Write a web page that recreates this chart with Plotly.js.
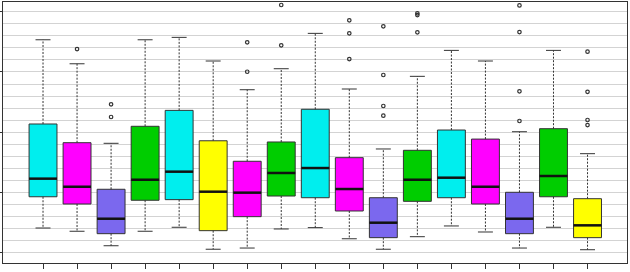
<!DOCTYPE html>
<html>
<head>
<meta charset="utf-8">
<script src="https://cdn.plot.ly/plotly-3.0.1.min.js"></script>
<style>
  html, body { margin: 0; padding: 0; background: #fff; }
  #chart { width: 630px; height: 272px; }
</style>
</head>
<body>
<div id="chart"></div>
<script>
// Group positions along the x axis
const groups = [1, 2, 3, 4, 5, 6, 7, 8, 9, 10, 11, 12, 13, 14, 15, 16, 17];

// Box colours, one per group
const fills = ['#00EEEE', '#FF00FF', '#7B68EE', '#00CD00', '#00EEEE', '#FFFF00',
               '#FF00FF', '#00CD00', '#00EEEE', '#FF00FF', '#7B68EE', '#00CD00',
               '#00EEEE', '#FF00FF', '#7B68EE', '#00CD00', '#FFFF00'];

// Five-number summaries per group
const lowerWhisker = [2.07, 1.80, 0.60, 1.80, 2.13, 0.31, 0.41, 1.99, 2.10, 1.18, 0.31, 1.35, 2.24, 1.74, 0.41, 2.13, 0.27];
const q1           = [4.66, 4.06, 1.60, 4.37, 4.42, 1.85, 3.01, 4.72, 4.58, 3.48, 1.27, 4.28, 4.58, 4.06, 1.60, 4.66, 1.27];
const medians      = [6.16, 5.49, 2.84, 6.07, 6.74, 5.08, 5.00, 6.63, 7.04, 5.30, 2.51, 6.07, 6.24, 5.49, 2.84, 6.38, 2.29];
const q3           = [10.69, 9.14, 5.28, 10.50, 11.82, 9.30, 7.60, 9.20, 11.91, 7.90, 4.58, 8.51, 10.19, 9.44, 5.03, 10.30, 4.50];
const upperWhisker = [17.67, 15.68, 9.09, 17.67, 17.87, 15.91, 13.53, 15.27, 18.20, 13.59, 8.62, 14.64, 16.79, 15.91, 10.05, 16.79, 8.23];

// Points beyond the whiskers, per group
const outliers = [
  [],
  [16.90],
  [12.32, 11.27],
  [],
  [],
  [],
  [17.46, 15.02],
  [20.55, 17.21],
  [],
  [19.28, 18.20, 16.07],
  [18.78, 14.75, 12.18, 11.38],
  [19.86, 19.72, 18.29],
  [],
  [],
  [20.52, 18.31, 13.40, 10.94],
  [],
  [16.68, 13.36, 11.02, 10.60]
];

const boxWidth = 0.82;
const capHalf = 0.22;
const edge = '#333333';

const traces = [];

// Boxes: drawn from the quartiles, whiskers added separately as dashed lines
groups.forEach((g, i) => {
  traces.push({
    type: 'box',
    x: [g],
    q1: [q1[i]],
    median: [medians[i]],
    q3: [q3[i]],
    lowerfence: [q1[i]],
    upperfence: [q3[i]],
    width: boxWidth,
    fillcolor: fills[i],
    line: { color: edge, width: 1 },
    whiskerwidth: 0,
    boxpoints: false,
    hoverinfo: 'skip',
    showlegend: false
  });
});

// Dashed whiskers
const wx = [], wy = [];
groups.forEach((g, i) => {
  wx.push(g, g, null, g, g, null);
  wy.push(q3[i], upperWhisker[i], null, q1[i], lowerWhisker[i], null);
});
traces.push({
  type: 'scatter', mode: 'lines', x: wx, y: wy,
  line: { color: edge, width: 1, dash: '2px,1.5px' },
  hoverinfo: 'skip', showlegend: false
});

// Whisker caps
const cx = [], cy = [];
groups.forEach((g, i) => {
  cx.push(g - capHalf, g + capHalf, null, g - capHalf, g + capHalf, null);
  cy.push(upperWhisker[i], upperWhisker[i], null, lowerWhisker[i], lowerWhisker[i], null);
});
traces.push({
  type: 'scatter', mode: 'lines', x: cx, y: cy,
  line: { color: edge, width: 1 },
  hoverinfo: 'skip', showlegend: false
});

// Heavy median bars
const mx = [], my = [];
groups.forEach((g, i) => {
  mx.push(g - boxWidth / 2, g + boxWidth / 2, null);
  my.push(medians[i], medians[i], null);
});
traces.push({
  type: 'scatter', mode: 'lines', x: mx, y: my,
  line: { color: '#111111', width: 2.5 },
  hoverinfo: 'skip', showlegend: false
});

// Outlying points
const ox = [], oy = [];
groups.forEach((g, i) => {
  outliers[i].forEach(v => { ox.push(g); oy.push(v); });
});
traces.push({
  type: 'scatter', mode: 'markers', x: ox, y: oy,
  marker: { symbol: 'circle-open', size: 3.5, color: edge, line: { width: 1.2, color: edge } },
  hoverinfo: 'skip', showlegend: false
});

const layout = {
  width: 630,
  height: 272,
  margin: { l: 3, r: 3, t: 2, b: 9 },
  paper_bgcolor: '#ffffff',
  plot_bgcolor: '#ffffff',
  showlegend: false,
  xaxis: {
    range: [-0.176, 18.16],
    tickmode: 'array',
    tickvals: groups,
    showticklabels: false,
    ticks: 'outside',
    ticklen: 5,
    tickcolor: edge,
    showgrid: false,
    zeroline: false,
    showline: true,
    mirror: true,
    linecolor: edge,
    linewidth: 1
  },
  yaxis: {
    range: [-0.83, 20.8],
    tick0: 0,
    dtick: 5,
    showticklabels: false,
    ticks: 'outside',
    ticklen: 4,
    tickcolor: edge,
    showgrid: true,
    gridcolor: '#d3d3d3',
    gridwidth: 1,
    minor: { dtick: 1, tick0: 0, showgrid: true, gridcolor: '#d3d3d3', gridwidth: 1 },
    zeroline: false,
    showline: true,
    mirror: true,
    linecolor: edge,
    linewidth: 1
  }
};

Plotly.newPlot('chart', traces, layout, { displayModeBar: false, staticPlot: true });
</script>
</body>
</html>
